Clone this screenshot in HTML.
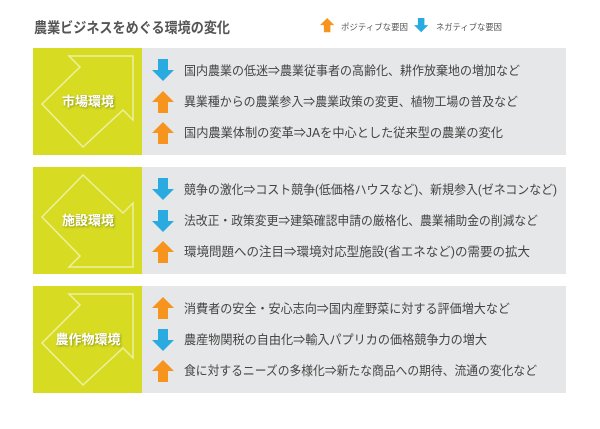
<!DOCTYPE html>
<html><head><meta charset="utf-8"><style>
body{margin:0;width:600px;height:424px;background:#fff;overflow:hidden}
svg text{font-family:"Liberation Sans","Noto Sans CJK JP",sans-serif}
</style></head><body>
<svg width="600" height="424" xmlns="http://www.w3.org/2000/svg">
<defs>
<g id="up"><polygon points="0,11 11,0 22,11 16,11 16,22 6,22 6,11" fill="#f7941d"/></g>
<g id="dn"><polygon points="6,0 16,0 16,11 22,11 11,22 0,11 6,11" fill="#29abe2"/></g>
<filter id="sh"><feDropShadow dx="1" dy="1" stdDeviation="1" flood-color="#6a7000" flood-opacity="0.7"/></filter>
</defs>
<text x="34" y="33" font-size="14.5" font-weight="bold" fill="#555" textLength="196" lengthAdjust="spacingAndGlyphs">農業ビジネスをめぐる環境の変化</text>
<use href="#up" transform="translate(320,18) scale(0.65)"/>
<text x="341" y="30" font-size="8.5" fill="#555" textLength="67" lengthAdjust="spacingAndGlyphs">ポジティブな要因</text>
<use href="#dn" transform="translate(414,18) scale(0.65)"/>
<text x="436" y="30" font-size="8.5" fill="#555" textLength="66" lengthAdjust="spacingAndGlyphs">ネガティブな要因</text>

<!-- section 1 -->
<g transform="translate(0,48)">
<rect x="33" y="0" width="109" height="107" fill="#d7dc22"/>
<rect x="142" y="0" width="424" height="107" fill="#e6e7e8"/>
<polygon points="69,8 133,8 133,72 123,62 83,99 42,56 80,19" fill="none" stroke="#eef0a0" stroke-width="1.5"/>
<text x="88" y="58" font-size="13" font-weight="bold" fill="#fff" text-anchor="middle" filter="url(#sh)">市場環境</text>
<use href="#dn" x="152" y="11"/><use href="#up" x="152" y="43"/><use href="#up" x="152" y="74"/>
<g font-size="12.5" fill="#444" lengthAdjust="spacingAndGlyphs">
<text x="184" y="27" textLength="336" lengthAdjust="spacingAndGlyphs">国内農業の低迷⇒農業従事者の高齢化、耕作放棄地の増加など</text>
<text x="184" y="58" textLength="334" lengthAdjust="spacingAndGlyphs">異業種からの農業参入⇒農業政策の変更、植物工場の普及など</text>
<text x="184" y="89" textLength="319" lengthAdjust="spacingAndGlyphs">国内農業体制の変革⇒JAを中心とした従来型の農業の変化</text>
</g></g>

<!-- section 2 -->
<g transform="translate(0,167)">
<rect x="33" y="0" width="109" height="107" fill="#d7dc22"/>
<rect x="142" y="0" width="424" height="107" fill="#e6e7e8"/>
<polygon points="83,8 123,46 133,36 133,100 69,100 80,89 42,50" fill="none" stroke="#eef0a0" stroke-width="1.5"/>
<text x="88" y="58" font-size="13" font-weight="bold" fill="#fff" text-anchor="middle" filter="url(#sh)">施設環境</text>
<use href="#dn" x="152" y="11"/><use href="#dn" x="152" y="43"/><use href="#up" x="152" y="74"/>
<g font-size="12.5" fill="#444">
<text x="184" y="27" textLength="373" lengthAdjust="spacingAndGlyphs">競争の激化⇒コスト競争(低価格ハウスなど)、新規参入(ゼネコンなど)</text>
<text x="184" y="58" textLength="354" lengthAdjust="spacingAndGlyphs">法改正・政策変更⇒建築確認申請の厳格化、農業補助金の削減など</text>
<text x="184" y="89" textLength="346" lengthAdjust="spacingAndGlyphs">環境問題への注目⇒環境対応型施設(省エネなど)の需要の拡大</text>
</g></g>

<!-- section 3 -->
<g transform="translate(0,286)">
<rect x="33" y="0" width="109" height="107" fill="#d7dc22"/>
<rect x="142" y="0" width="424" height="107" fill="#e6e7e8"/>
<polygon points="69,8 133,8 133,72 123,62 83,99 42,57 80,19" fill="none" stroke="#eef0a0" stroke-width="1.5"/>
<text x="88" y="58" font-size="13" font-weight="bold" fill="#fff" text-anchor="middle" filter="url(#sh)">農作物環境</text>
<use href="#up" x="152" y="11"/><use href="#dn" x="152" y="43"/><use href="#up" x="152" y="74"/>
<g font-size="12.5" fill="#444">
<text x="184" y="27" textLength="326" lengthAdjust="spacingAndGlyphs">消費者の安全・安心志向⇒国内産野菜に対する評価増大など</text>
<text x="184" y="58" textLength="303" lengthAdjust="spacingAndGlyphs">農産物関税の自由化⇒輸入パプリカの価格競争力の増大</text>
<text x="184" y="89" textLength="353" lengthAdjust="spacingAndGlyphs">食に対するニーズの多様化⇒新たな商品への期待、流通の変化など</text>
</g></g>
</svg>
</body></html>
